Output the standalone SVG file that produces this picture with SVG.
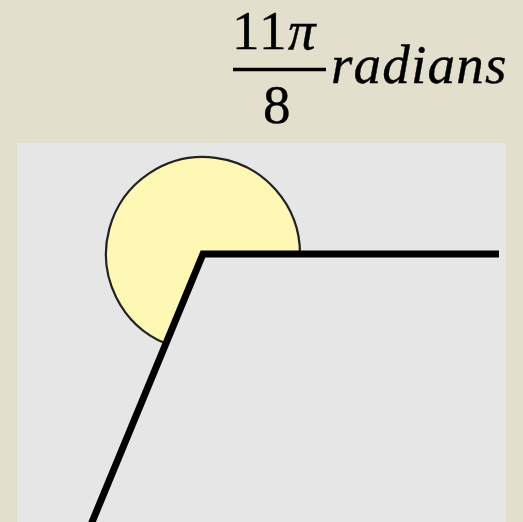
<svg xmlns="http://www.w3.org/2000/svg" width="523" height="522" viewBox="0 0 523 522">
<style>
.t{font-size:55px;fill:#000;stroke:#000;stroke-width:0.4}
.i{font-style:italic}
.ray{stroke:#000;stroke-width:7;fill:none;stroke-linecap:butt;stroke-linejoin:miter}
</style>
<rect width="523" height="522" fill="#e2dfcd"/>
<g id="label" font-family="Liberation Serif, DejaVu Serif, serif">
<text class="t" x="232" y="49" letter-spacing="1.5" font-family="Liberation Serif, DejaVu Serif, serif">11<tspan class="i">π</tspan></text>
<line x1="233" y1="69.5" x2="326" y2="69.5" stroke="#000" stroke-width="3.5"/>
<text class="t" x="263" y="123" font-family="Liberation Serif, DejaVu Serif, serif">8</text>
<text class="t i" x="331" y="83" letter-spacing="1.2" font-family="Liberation Serif, DejaVu Serif, serif">radians</text>
</g>
<g id="panel">
<rect x="17" y="143" width="489" height="379" fill="#e6e6e6"/>
</g>
<g id="angle">
<path d="M203,254 L300,254 A97,97 0 1 0 165.9,343.6 Z" fill="#fff8b4" stroke="#222" stroke-width="2.2"/>
</g>
<g id="connectors">
<polyline class="ray" points="499,254 203,254 90,527"/>
</g>
</svg>
